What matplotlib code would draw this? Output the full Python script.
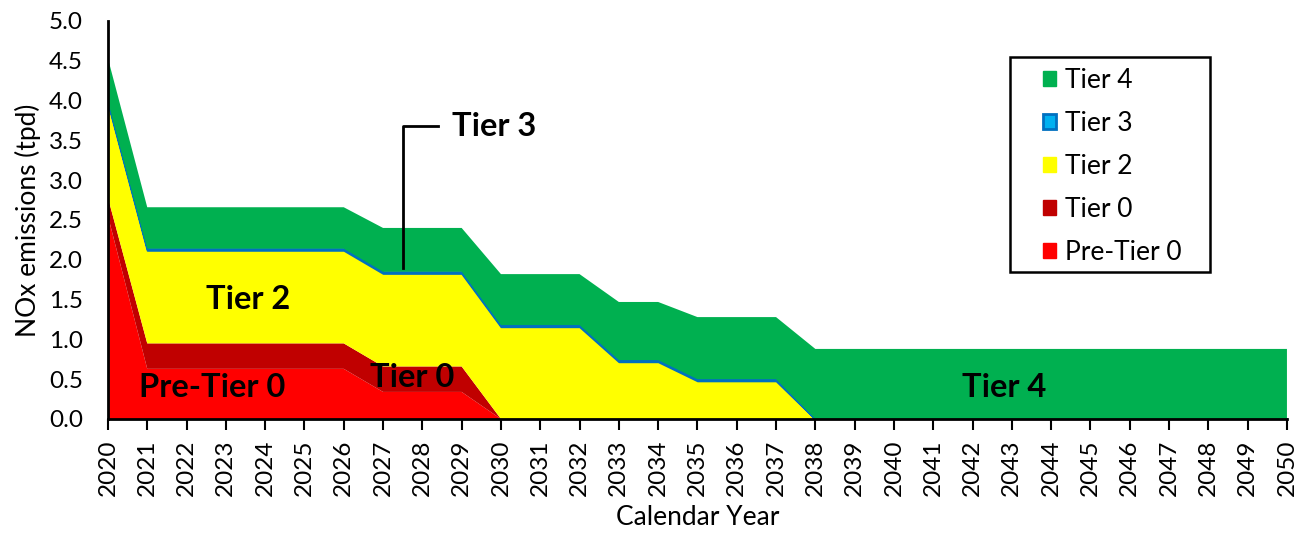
import numpy as np
import matplotlib
matplotlib.use("Agg")
import matplotlib.pyplot as plt
from matplotlib.patches import Patch, Rectangle

plt.rcParams['font.family'] = ['Lato', 'DejaVu Sans']

years = list(range(2020, 2051))
# NOx emissions by tier (tpd)
pre_tier0 = [2.55] + [0.63] * 6 + [0.34] * 3 + [0.0] * 21
tier0 = [0.23] + [0.32] * 6 + [0.32] * 3 + [0.0] * 21
tier2 = [1.19] + [1.17] * 6 + [1.17] * 3 + [1.16] * 3 + [0.72] * 2 + [0.48] * 3 + [0.0] * 13
tier3 = [0.02] * 18 + [0.0] * 13
tier4 = [0.54] + [0.52] * 6 + [0.55] * 3 + [0.64] * 3 + [0.73] * 2 + [0.78] * 3 + [0.88] * 13

series_names = ['Pre-Tier 0', 'Tier 0', 'Tier 2', 'Tier 3', 'Tier 4']
colors = ['#FF0000', '#C00000', '#FFFF00', '#00B0F0', '#00B050']

fig = plt.figure(figsize=(13.1, 5.34), dpi=100)
ax = fig.add_axes([0.0824, 0.2154, 0.9, 0.7453])

polys = ax.stackplot(years, pre_tier0, tier0, tier2, tier3, tier4,
                     colors=colors, linewidth=0)
polys[3].set_edgecolor('#0070C0')
polys[3].set_linewidth(1.5)

ax.set_xlim(2020, 2050)
ax.set_ylim(0, 5.0)
ax.set_xticks(years)
ax.set_xticklabels([str(y) for y in years], rotation=90, fontsize=17.5)
ax.set_yticks(np.arange(0, 5.01, 0.5))
ax.set_yticklabels([f'{v:.1f}' for v in np.arange(0, 5.01, 0.5)], fontsize=17.5)
ax.tick_params(axis='y', length=0, pad=18)
ax.tick_params(axis='x', length=8, width=1.5, direction='out', pad=7)

for side in ['top', 'right']:
    ax.spines[side].set_visible(False)
for side in ['left', 'bottom']:
    ax.spines[side].set_linewidth(2)
    ax.spines[side].set_color('black')

ax.set_xlabel('Calendar Year', fontsize=19, labelpad=6)
ax.set_ylabel('NOx emissions (tpd)', fontsize=19, labelpad=6)

# in-chart labels
lab = dict(fontsize=23.5, fontweight='bold', ha='center', va='center')
ax.text(2023.56, 1.50, 'Tier 2', **lab)
ax.text(2022.65, 0.39, 'Pre-Tier 0', **lab)
ax.text(2027.75, 0.52, 'Tier 0', **lab)
ax.text(2042.8, 0.40, 'Tier 4', **lab)

# Tier 3 callout
ax.plot([2027.5, 2027.5, 2028.4], [1.90, 3.68, 3.68], color='black', lw=2)
ax.text(2028.75, 3.68, 'Tier 3', fontsize=23.5, fontweight='bold', ha='left', va='center')

handles = [Patch(facecolor=colors[4], edgecolor=colors[4]),
           Patch(facecolor=colors[3], edgecolor='#0070C0', linewidth=2),
           Patch(facecolor=colors[2], edgecolor=colors[2]),
           Patch(facecolor=colors[1], edgecolor=colors[1]),
           Patch(facecolor=colors[0], edgecolor=colors[0])]
leg = fig.legend(handles, ['Tier 4', 'Tier 3', 'Tier 2', 'Tier 0', 'Pre-Tier 0'],
                 loc='upper left', bbox_to_anchor=(1043 / 1310, 1 - 68 / 534),
                 fontsize=19, frameon=False, handlelength=0.5, handleheight=0.5,
                 handletextpad=0.35, labelspacing=0.68, borderpad=0, borderaxespad=0)
# legend box
fig.patches.append(Rectangle((1010 / 1310, 1 - 272 / 534), 200 / 1310, 215 / 534,
                             transform=fig.transFigure, fill=False,
                             edgecolor='black', linewidth=1.8))

fig.savefig('out.png', dpi=100)
